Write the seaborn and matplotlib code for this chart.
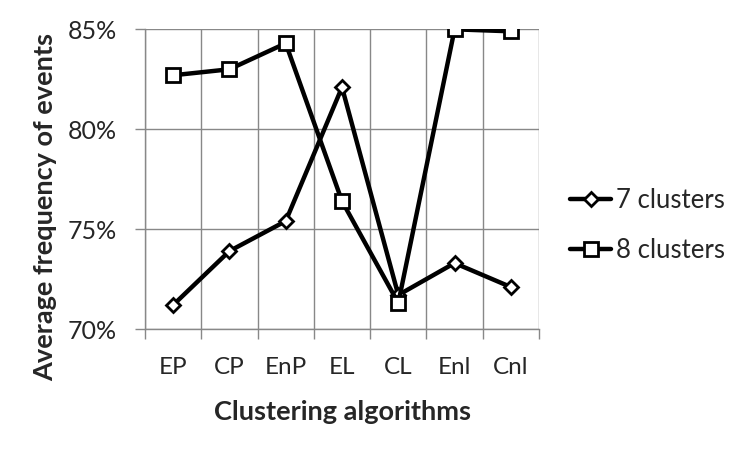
import numpy as np
import pandas as pd
import matplotlib
matplotlib.use("Agg")
import matplotlib.pyplot as plt
from matplotlib.ticker import FixedLocator, FuncFormatter
import seaborn as sns

algorithms = ["EP", "CP", "EnP", "EL", "CL", "Enl", "Cnl"]
clusters_7 = [71.2, 73.9, 75.4, 82.1, 71.7, 73.3, 72.1]
clusters_8 = [82.7, 83.0, 84.3, 76.4, 71.3, 85.0, 84.9]
y_ticks = [70, 75, 80, 85]

sns.set_theme(style="white")
plt.rcParams["font.family"] = ["Lato", "DejaVu Sans"]

df = pd.DataFrame({
    "algoritmo": algorithms * 2,
    "pos": list(range(len(algorithms))) * 2,
    "valor": clusters_7 + clusters_8,
    "serie": ["7 clusters"] * len(algorithms) + ["8 clusters"] * len(algorithms),
})

fig = plt.figure(figsize=(7.5, 4.51), dpi=100)
ax = fig.add_axes([0.1933, 0.2705, 0.5254, 0.6645])

sns.lineplot(data=df, x="pos", y="valor", hue="serie", style="serie",
             markers={"7 clusters": "D", "8 clusters": "s"}, dashes=False,
             palette={"7 clusters": "black", "8 clusters": "black"},
             linewidth=3.2, markerfacecolor="white", markeredgecolor="black",
             markeredgewidth=2.0, ax=ax, legend=True)
for ln in ax.lines:
    if ln.get_marker() == "D":
        ln.set_markersize(7)
    elif ln.get_marker() == "s":
        ln.set_markersize(10)

ax.set_xlim(-0.5, len(algorithms) - 0.5)
ax.set_ylim(70, 85)
ax.set_xticks(range(len(algorithms)))
ax.set_xticklabels(algorithms, fontsize=17.5)
ax.xaxis.set_minor_locator(FixedLocator(np.arange(-0.5, len(algorithms), 1.0)))
ax.tick_params(axis="x", which="major", length=0, pad=20)
ax.tick_params(axis="x", which="minor", length=7, color="#888888", width=1, direction="out", bottom=True)
ax.set_yticks(y_ticks)
ax.yaxis.set_major_formatter(FuncFormatter(lambda v, p: f"{v:.0f}%"))
ax.tick_params(axis="y", length=7, color="#888888", width=1, direction="out", left=True, labelsize=18, pad=13)

ax.grid(True, which="major", axis="y", color="#888888", linewidth=1)
ax.grid(True, which="minor", axis="x", color="#888888", linewidth=1)
for side in ["top", "right"]:
    ax.spines[side].set_visible(False)
for side in ["left", "bottom"]:
    ax.spines[side].set_color("#888888")
    ax.spines[side].set_linewidth(1)

ax.set_xlabel("Clustering algorithms", fontsize=19.5, fontweight="bold", labelpad=16)
ax.set_ylabel("Average frequency of events", fontsize=19.5, fontweight="bold")
ax.yaxis.set_label_coords(-0.224, 0.407)

leg = ax.legend(loc="center left", bbox_to_anchor=(1.02, 0.345), frameon=False,
                fontsize=18.5, handlelength=1.6, handletextpad=0.2, labelspacing=1.0)

fig.savefig("out.png", dpi=100)
